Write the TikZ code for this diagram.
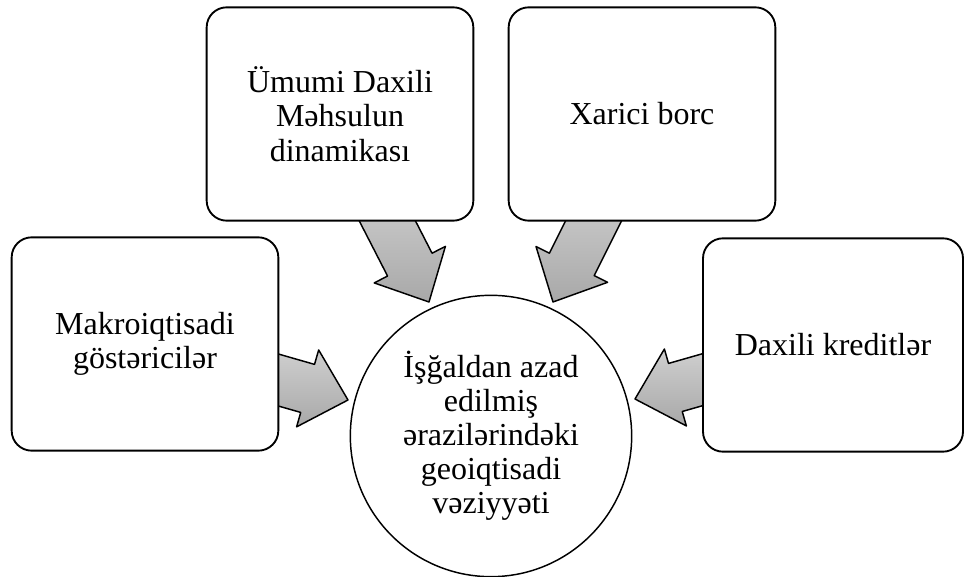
\documentclass[tikz,border=0pt]{standalone}
\usepackage{fontspec}
\setmainfont{Liberation Serif}
\usepackage{tikz}
\usetikzlibrary{calc,backgrounds}

% wide grey arrow from a tail point to a tip point
\newcommand{\blockarrow}[2]{%
	\draw[fatarrow]
	($(#1)!18.75pt!90:(#2)$) --
	($(#2)!31.5pt!(#1)!18.75pt!-90:(#1)$) --
	($(#2)!31.5pt!(#1)!30pt!-90:(#1)$) --
	(#2) --
	($(#2)!31.5pt!(#1)!30pt!90:(#1)$) --
	($(#2)!31.5pt!(#1)!18.75pt!90:(#1)$) --
	($(#1)!18.75pt!-90:(#2)$) -- cycle;}

\begin{document}
\begin{tikzpicture}[
				x=0.75pt, y=-0.75pt,
				infobox/.style={draw=black, fill=white, rectangle, rounded corners=15pt, line width=1.4pt,
						minimum width=200pt, minimum height=160pt, align=center,
						font=\fontsize{24}{26}\selectfont},
				goalnode/.style={draw=black, fill=white, circle, line width=1.1pt,
						minimum size=211pt, inner sep=0pt, align=center,
						font=\fontsize{24}{25.5}\selectfont},
				fatarrow/.style={draw=black, line width=1.1pt, line join=round,
						top color=black!18, bottom color=black!34},
			]
			\useasboundingbox (0,0) rectangle (965,577);
			\node[infobox] (mak) at (145,344) {Makroiqtisadi\\göstəricilər};
			\node[infobox] (umd) at (340,114) {Ümumi Daxili\\Məhsulun\\dinamikası};
			\node[infobox] (xb)  at (642,114) {Xarici borc};
			\node[infobox, minimum width=195pt] (dk) at (833,345) {Daxili kreditlər};
			\node[goalnode] (geo) at (491,436) {İşğaldan azad\\edilmiş\\ərazilərindəki\\geoiqtisadi\\vəziyyəti};
			\coordinate (makT) at (240,369);
			\coordinate (makP) at (348,400);
			\coordinate (umdT) at (371.5,190);
			\coordinate (umdP) at (429,302);
			\coordinate (xbT)  at (609,190);
			\coordinate (xbP)  at (553,302);
			\coordinate (dkT)  at (740,369);
			\coordinate (dkP)  at (635,399);
			\begin{scope}[on background layer]
				\blockarrow{makT}{makP}
				\blockarrow{umdT}{umdP}
				\blockarrow{xbT}{xbP}
				\blockarrow{dkT}{dkP}
			\end{scope}
		\end{tikzpicture}
\end{document}
